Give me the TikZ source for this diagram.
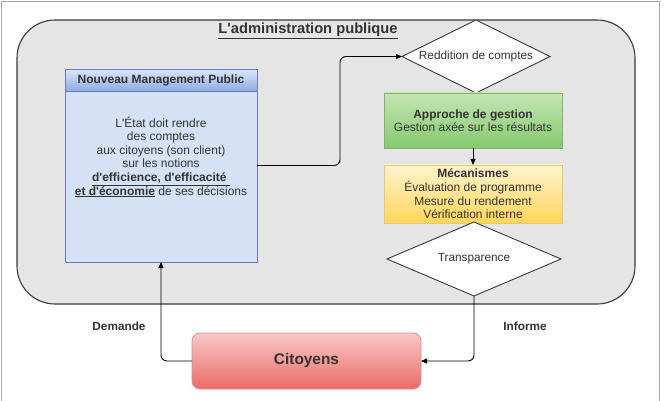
\documentclass[tikz,border=0pt]{standalone}
\usepackage{fontspec}
\setmainfont{Liberation Sans}[Ligatures=TeXOff]
\usetikzlibrary{shapes.geometric,arrows.meta}
\definecolor{txt}{HTML}{333333}
\definecolor{edge}{HTML}{3A3A3A}
\newcommand{\apos}{\symbol{39}}
\tikzset{
  arr/.style={draw=black, line width=0.9pt, -{Triangle[length=6pt,width=5pt]}, rounded corners=6pt},
  plainbox/.style={rectangle, inner sep=0pt, outer sep=0pt, text=txt, align=center},
  dia/.style={diamond, draw=edge, line width=0.9pt, fill=white, inner sep=0pt, outer sep=0pt, text=txt,
    font=\fontsize{11.8}{13}\selectfont},
  lbl/.style={text=txt, font=\bfseries\fontsize{11.8}{13}\selectfont},
}
\begin{document}
\begin{tikzpicture}[x=1pt,y=-1pt]
\useasboundingbox (0,0) rectangle (664,401);
\fill[white] (0,0) rectangle (664,401);
% outer frame
\draw[gray!70, line width=0.8pt] (1,401) -- (1,1) -- (659,1) -- (659,401);
% main container
\node[plainbox, draw=edge, line width=1.1pt, fill=black!10, rounded corners=38pt,
  minimum width=618pt, minimum height=284pt] (admin) at (326,162) {};
\node[text=txt, font=\bfseries\fontsize{14.7}{16}\selectfont] (title) at (308,31) {\underline{L\apos administration publique}};
% Nouveau Management Public
\node[plainbox, draw=blue!35!gray!80, line width=0.8pt, fill={rgb,255:red,213;green,226;blue,245},
  minimum width=192pt, minimum height=193pt] (nmp) at (161,165.5) {};
\node[plainbox, draw=blue!35!gray!80, line width=0.8pt, top color={rgb,255:red,220;green,232;blue,250},
  bottom color={rgb,255:red,140;green,172;blue,226}, minimum width=192pt, minimum height=22pt,
  font=\bfseries\fontsize{12}{13}\selectfont] (nmphead) at (161,80) {Nouveau Management Public};
\node[plainbox, font=\fontsize{12}{13.6}\selectfont] (nmptext) at (161,157)
  {L\apos État doit rendre\\des comptes\\aux citoyens (son client)\\sur les notions\\
   \underline{\textbf{d\apos efficience, d\apos efficacité }}\\\underline{\textbf{et d\apos économie}} de ses décisions};
% right column
\node[dia, minimum width=148pt, minimum height=73pt, aspect=2] (redd) at (476,56.5) {Reddition de comptes};
\node[plainbox, draw={rgb,255:red,130;green,179;blue,102}, line width=0.8pt,
  top color={rgb,255:red,196;green,230;blue,180}, bottom color={rgb,255:red,134;green,201;blue,110},
  minimum width=178pt, minimum height=55pt, font=\fontsize{12}{13.2}\selectfont] (green) at (473,120.5)
  {\textbf{Approche de gestion}\\Gestion axée sur les résultats};
\node[plainbox, draw={rgb,255:red,232;green,200;blue,110}, line width=0.8pt,
  top color={rgb,255:red,255;green,243;blue,205}, bottom color={rgb,255:red,255;green,214;blue,90},
  minimum width=178pt, minimum height=58pt, font=\fontsize{12}{13.6}\selectfont] (yellow) at (473,194)
  {\textbf{Mécanismes}\\Évaluation de programme\\Mesure du rendement\\Vérification interne};
\node[dia, minimum width=174pt, minimum height=74pt, aspect=2.35] (transp) at (474,259) {Transparence};
% citoyens
\node[plainbox, draw={rgb,255:red,222;green,140;blue,140}, line width=0.8pt, rounded corners=8pt,
  top color={rgb,255:red,248;green,202;blue,200}, bottom color={rgb,255:red,234;green,107;blue,102},
  minimum width=229pt, minimum height=56pt, font=\bfseries\fontsize{15.4}{17}\selectfont] (cit) at (306.5,361) {Citoyens};
% labels
\node[lbl] (dem) at (119,326) {Demande};
\node[lbl] (inf) at (525,326) {Informe};
% connectors
\coordinate (bend) at (340,0);
\draw[arr] (nmp.east) -- (nmp.east -| bend) |- (redd.west);
\draw[arr] (green.south) -- (yellow.north);
\draw[arr] (transp.south) |- (cit.east);
\draw[arr] (cit.west) -| (nmp.south);
\end{tikzpicture}
\end{document}
